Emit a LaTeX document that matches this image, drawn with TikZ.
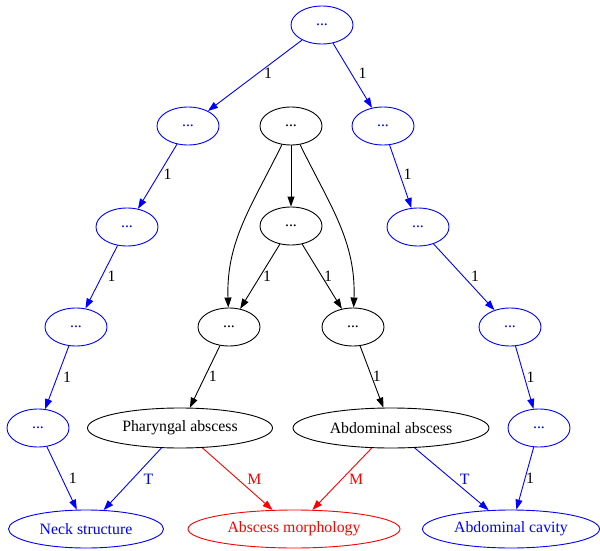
\documentclass[tikz,border=0pt]{standalone}
\usepackage{fontspec}
\setmainfont{Liberation Serif}
\usetikzlibrary{arrows.meta,shapes.geometric}

\definecolor{gvblue}{RGB}{0,0,255}
\definecolor{gvred}{RGB}{255,0,0}

\begin{document}
\begin{tikzpicture}[x=1pt, y=-1pt,
    every node/.style={font=\fontsize{15.8}{18}\selectfont},
    ell/.style={draw, ellipse, line width=0.9pt, inner sep=0pt, minimum width=62pt, minimum height=38pt},
    blk/.style={ell, black},
    blu/.style={ell, gvblue, text=gvblue},
    rd/.style={ell, gvred, text=gvred},
    edge/.style={line width=0.9pt, -{Triangle[length=10pt, width=7pt]}},
    lbl/.style={midway, inner sep=0pt, text=black}]
    \useasboundingbox (0,0) rectangle (600,551);

    % Blue chains
    \node[blu] (root) at (322,25) {...};
    \node[blu] (l1) at (188,126) {...};
    \node[blu] (l2) at (127,227) {...};
    \node[blu] (l3) at (76,327) {...};
    \node[blu] (l4) at (38,428) {...};
    \node[blu] (r1) at (383,126) {...};
    \node[blu] (r2) at (418,227) {...};
    \node[blu] (r3) at (510,327) {...};
    \node[blu] (r4) at (539,428) {...};

    % Black nodes
    \node[blk] (m1) at (291,126) {...};
    \node[blk] (m2) at (291,226) {...};
    \node[blk] (m3) at (229,327) {...};
    \node[blk] (m4) at (353,327) {...};
    \node[blk, minimum width=185pt, minimum height=40pt] (phar) at (180,428) {Pharyngal abscess};
    \node[blk, minimum width=196pt, minimum height=40pt] (abd) at (391,428) {Abdominal abscess};

    % Bottom row
    \node[blu, minimum width=155pt] (neck) at (86,529) {Neck structure};
    \node[rd, minimum width=212pt] (morph) at (294,529) {Abscess morphology};
    \node[blu, minimum width=177pt] (cav) at (511,529) {Abdominal cavity};

    % Left chain
    \draw[edge, gvblue] (root) -- (l1) node[lbl, xshift=13pt, yshift=2pt] {1};
    \draw[edge, gvblue] (l1) -- (l2) node[lbl, xshift=10pt, yshift=2pt] {1};
    \draw[edge, gvblue] (l2) -- (l3) node[lbl, xshift=10pt, yshift=1pt] {1};
    \draw[edge, gvblue] (l3) -- (l4) node[lbl, xshift=10pt] {1};
    \draw[edge, gvblue] (l4) -- (neck) node[lbl, xshift=11pt] {1};

    % Right chain
    \draw[edge, gvblue] (root) -- (r1) node[lbl, xshift=10pt, yshift=2pt] {1};
    \draw[edge, gvblue] (r1) -- (r2) node[lbl, xshift=7pt, yshift=2pt] {1};
    \draw[edge, gvblue] (r2) -- (r3) node[lbl, xshift=11pt, yshift=1pt] {1};
    \draw[edge, gvblue] (r3) -- (r4) node[lbl, xshift=6pt] {1};
    \draw[edge, gvblue] (r4) -- (cav) node[lbl, xshift=5pt] {1};

    % Middle
    \draw[edge] (m1) -- (m2);
    \draw[edge] (m1) to[out=-116, in=92] (m3);
    \draw[edge] (m1) to[out=-64, in=88] (m4);
    \draw[edge] (m2) -- (m3) node[lbl, xshift=7pt] {1};
    \draw[edge] (m2) -- (m4) node[lbl, xshift=6pt] {1};
    \draw[edge] (m3) -- (phar) node[lbl, xshift=8pt] {1};
    \draw[edge] (m4) -- (abd) node[lbl, xshift=5pt] {1};

    % Typed links
    \draw[edge, gvblue] (phar) -- (neck) node[lbl, text=gvblue, xshift=16pt] {T};
    \draw[edge, gvred] (phar) -- (morph) node[lbl, text=gvred, xshift=17pt] {M};
    \draw[edge, gvred] (abd) -- (morph) node[lbl, text=gvred, xshift=14pt] {M};
    \draw[edge, gvblue] (abd) -- (cav) node[lbl, text=gvblue, xshift=13pt] {T};
\end{tikzpicture}
\end{document}
